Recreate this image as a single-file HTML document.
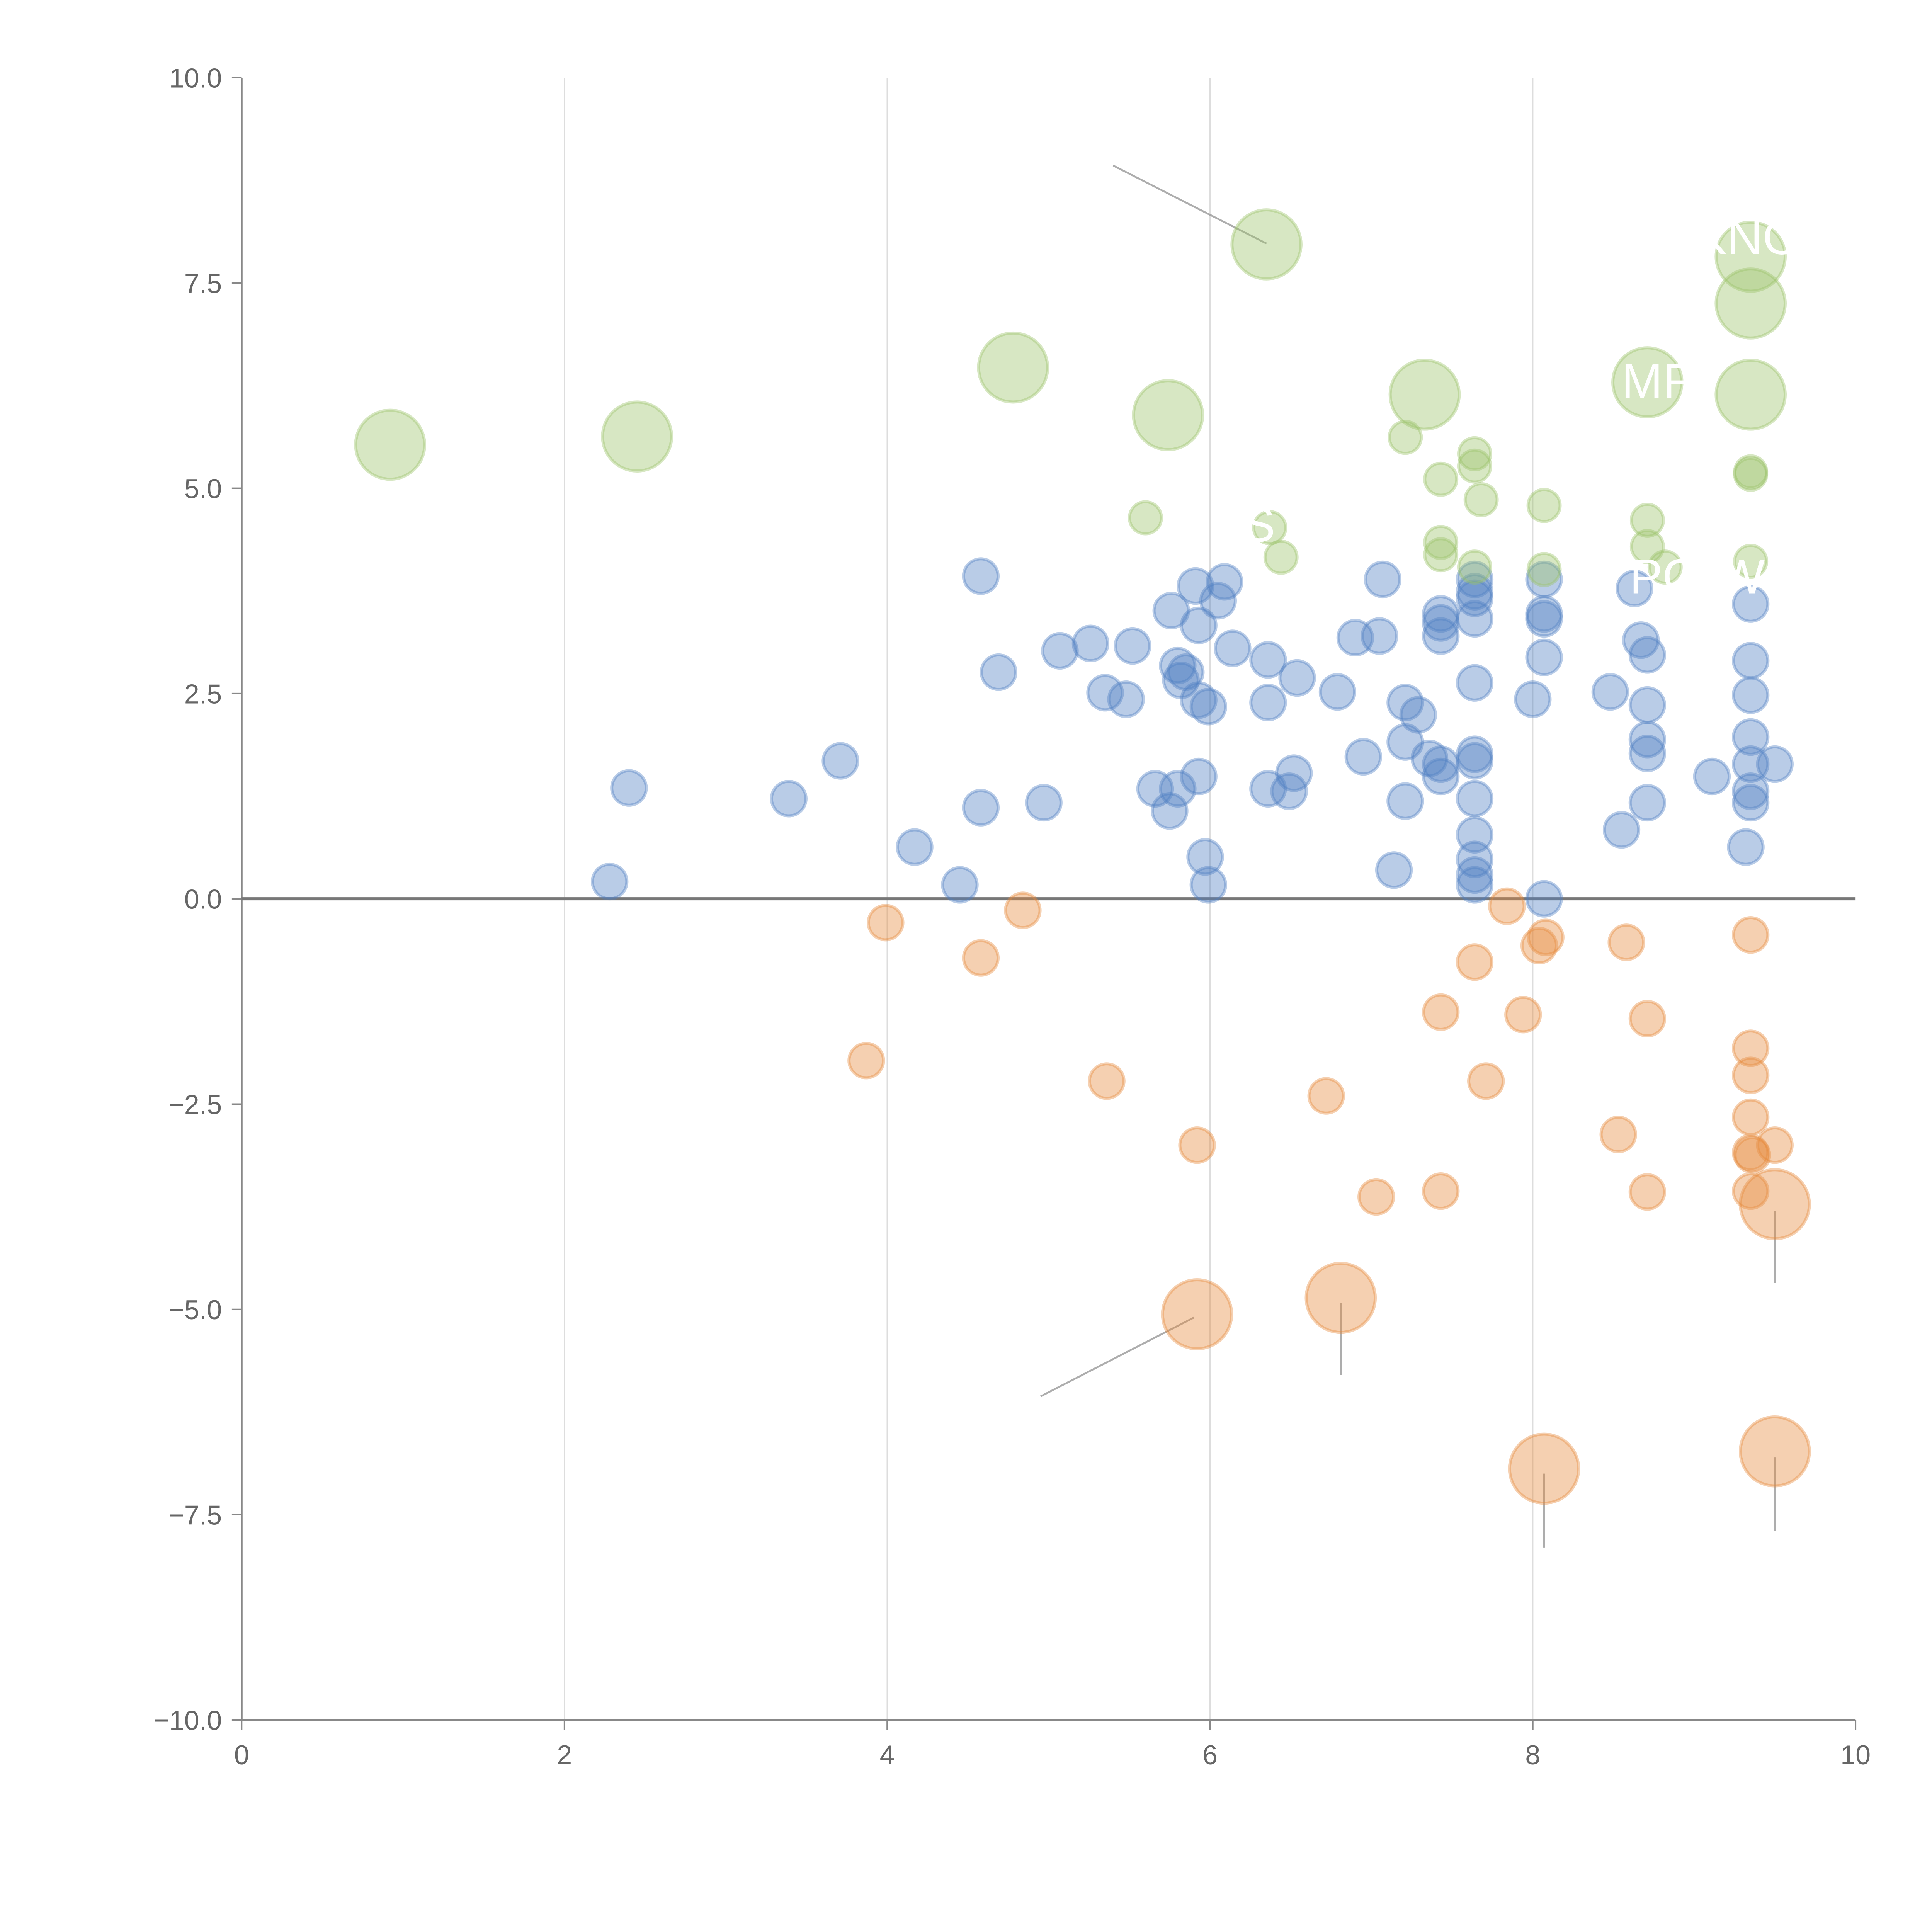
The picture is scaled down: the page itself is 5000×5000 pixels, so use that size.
<!DOCTYPE html>
<html><head><meta charset="utf-8"><style>html,body{margin:0;padding:0;background:#fff}svg{display:block}</style></head>
<body>
<svg id="chart" width="5000" height="5000" viewBox="0 0 1567 1567" xmlns="http://www.w3.org/2000/svg" font-family="Liberation Sans, sans-serif">
<g id="grid"></g>
<g id="axes"></g>
<g id="leaders"></g>
<g id="marks"></g>
<g id="labels"></g>
</svg>
<script>
const xTicks=[0,2,4,6,8,10];
const yTicks=[-10,-7.5,-5,-2.5,0,2.5,5,7.5,10];
const greenBigX=[0.92,2.45,4.78,5.74,6.35,7.33,8.71,9.35,9.35,9.35];
const greenBigY=[5.53,5.63,6.47,5.89,7.97,6.14,6.29,7.82,7.25,6.14];
const greenX=[5.60,6.37,6.44,7.21,7.43,7.43,7.43,7.64,7.64,7.68,7.64,8.07,8.07,8.71,8.71,8.82,9.35,9.35,9.35];
const greenY=[4.64,4.52,4.16,5.62,5.11,4.34,4.19,5.42,5.27,4.86,4.04,4.79,4.01,4.61,4.29,4.04,5.20,5.17,4.11];
const blueX=[2.28,2.40,3.39,3.71,4.17,4.45,4.58,4.58,4.69,4.97,5.07,5.26,5.35,5.48,5.52,5.66,5.75,5.76,5.80,5.80,5.82,5.85,5.91,5.93,5.93,5.93,5.97,5.99,5.99,6.05,6.09,6.14,6.36,6.36,6.36,6.49,6.52,6.54,6.79,6.90,6.95,7.05,7.07,7.14,7.21,7.21,7.21,7.29,7.36,7.43,7.43,7.43,7.43,7.43,7.64,7.64,7.64,7.64,7.64,7.64,7.64,7.64,7.64,7.64,7.64,7.64,8.00,8.07,8.07,8.07,8.07,8.07,8.48,8.55,8.63,8.67,8.71,8.71,8.71,8.71,8.71,9.11,9.32,9.35,9.35,9.35,9.35,9.35,9.35,9.35,9.50];
const blueY=[0.21,1.35,1.22,1.68,0.63,0.17,3.93,1.11,2.76,1.17,3.02,3.11,2.51,2.43,3.08,1.34,1.07,3.51,2.84,1.34,2.66,2.76,3.81,3.33,1.49,2.42,0.51,0.17,2.34,3.63,3.86,3.05,2.91,2.39,1.34,1.31,1.53,2.69,2.52,3.18,1.73,3.20,3.89,0.35,2.39,1.91,1.19,2.24,1.71,3.47,3.36,3.20,1.64,1.49,3.89,3.74,3.66,3.41,2.63,1.76,1.68,1.22,0.78,0.48,0.29,0.17,2.43,3.89,3.47,3.41,2.94,0.00,2.52,0.84,3.78,3.15,2.97,2.36,1.94,1.77,1.17,1.49,0.63,3.59,2.90,2.48,1.97,1.64,1.31,1.17,1.64];
const orangeX=[3.87,3.99,4.58,4.84,5.36,5.92,6.72,7.03,7.43,7.43,7.64,7.71,7.84,7.94,8.04,8.08,8.53,8.58,8.71,8.71,9.35,9.35,9.35,9.35,9.35,9.36,9.35,9.50];
const orangeY=[-1.97,-0.29,-0.72,-0.14,-2.22,-3.00,-2.40,-3.63,-1.38,-3.56,-0.77,-2.22,-0.09,-1.41,-0.57,-0.47,-2.87,-0.53,-1.46,-3.57,-0.44,-1.82,-2.15,-2.66,-3.09,-3.12,-3.56,-3.00];
const orangeBigX=[5.92,6.81,9.50,8.07,9.50];
const orangeBigY=[-5.06,-4.86,-3.72,-6.94,-6.73];

const X0=196,X1=1505,Y0=1395,Y1=63;
const sx=v=>X0+(v-0)/(10-0)*(X1-X0);
const sy=v=>Y0-(v+10)/20*(Y0-Y1);
const NS='http://www.w3.org/2000/svg';
function mk(tag,parent,attrs){const e=document.createElementNS(NS,tag);for(const k in attrs)e.setAttribute(k,attrs[k]);parent.appendChild(e);return e;}
const grid=document.getElementById('grid'),axes=document.getElementById('axes'),marks=document.getElementById('marks'),leaders=document.getElementById('leaders'),labels=document.getElementById('labels');
xTicks.forEach(t=>{
  if(t>0&&t<10){const g=mk('line',grid,{x1:sx(t),x2:sx(t),y1:Y1,y2:Y0,stroke:'#dddddd','stroke-width':1});
  
  }
  const tk=mk('line',axes,{x1:sx(t),x2:sx(t),y1:Y0,y2:Y0+8,stroke:'#888','stroke-width':1.2});
  
  
  const tx=mk('text',axes,{x:sx(t),y:Y0+36,'text-anchor':'middle','font-size':22,fill:'#666'});tx.textContent=t;
  
  
});
yTicks.forEach(t=>{
  const tk=mk('line',axes,{x1:X0-8,x2:X0,y1:sy(t),y2:sy(t),stroke:'#888','stroke-width':1.2});
  
  
  const tx=mk('text',axes,{x:X0-16,y:sy(t)+8,'text-anchor':'end','font-size':22,fill:'#666'});tx.textContent=(t<0?'\u2212':'')+Math.abs(t).toFixed(1);
  
  
});
const ya=mk('line',axes,{x1:X0,x2:X0,y1:Y1,y2:Y0,stroke:'#888','stroke-width':1.5});


const xa=mk('line',axes,{x1:X0,x2:X1,y1:Y0,y2:Y0,stroke:'#888','stroke-width':1.5});


const zl=mk('line',axes,{x1:X0,x2:X1,y1:sy(0),y2:sy(0),stroke:'#777','stroke-width':2.5});



function series(xs,ys,r,fill,stroke,name){
  xs.forEach((x,i)=>{const c=mk('circle',marks,{cx:sx(x),cy:sy(ys[i]),r:r,fill:fill,'fill-opacity':0.4,stroke:stroke,'stroke-opacity':0.4,'stroke-width':2.5});
  
  });
}
series(blueX,blueY,14,'#4f7fc4','#4f7fc4','blue-bubble');
series(orangeX,orangeY,14,'#e58a3c','#e58a3c','orange-bubble');
series(orangeBigX,orangeBigY,28,'#e58a3c','#e58a3c','orange-large-bubble');
series(greenX,greenY,13,'#9cc26a','#9cc26a','green-bubble');
series(greenBigX,greenBigY,28,'#9cc26a','#9cc26a','green-large-bubble');

const leadX1=[5.40,4.95,6.81,9.50,8.07,9.50];
const leadY1=[8.93,-6.06,-4.92,-3.80,-7.00,-6.80];
const leadX2=[6.35,5.90,6.81,9.50,8.07,9.50];
const leadY2=[7.98,-5.10,-5.80,-4.68,-7.90,-7.70];
leadX1.forEach((x,i)=>{const l=mk('line',leaders,{x1:sx(x),y1:sy(leadY1[i]),x2:sx(leadX2[i]),y2:sy(leadY2[i]),stroke:'#999','stroke-width':1.5,'stroke-opacity':0.8});

});

const labelText=['MF','PO','WF','KNO','S'];
const labelX=[8.55,8.60,9.15,9.00,6.20];
const labelY=[6.10,3.72,3.72,7.85,4.35];
labelText.forEach((t,i)=>{const tx=mk('text',labels,{x:sx(labelX[i]),y:sy(labelY[i]),'font-size':40,fill:'#fff'});tx.textContent=t;

});
</script>
</body></html>
